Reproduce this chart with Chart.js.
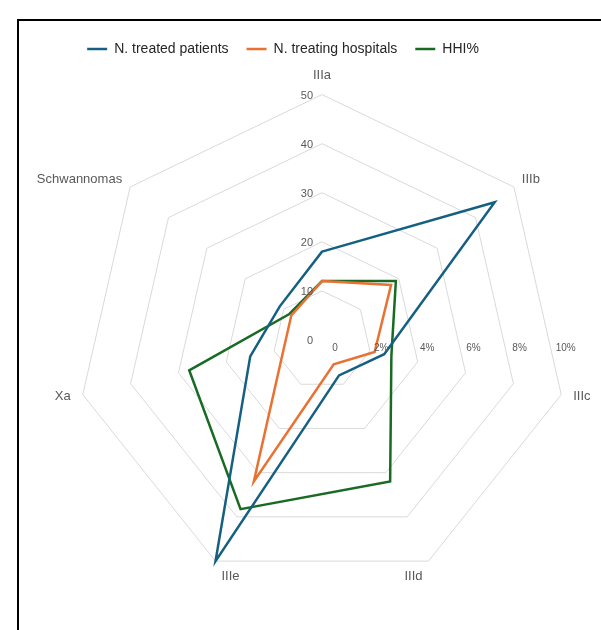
<!DOCTYPE html>
<html>
<head>
<meta charset="utf-8">
<script src="https://cdn.jsdelivr.net/npm/chart.js@4"></script>
<style>
  html, body { margin: 0; padding: 0; background: #fff; overflow: hidden; }
  .frame { position: absolute; left: 17px; top: 19px; width: 700px; height: 700px; border: 2.5px solid #000; }
  .box { position: absolute; left: 17px; top: 24px; width: 610px; height: 606px; }
</style>
</head>
<body>
<div class="frame"></div>
<div class="box"><canvas id="radarChart"></canvas></div>
<script>
// categorie e valori
const categories = ['IIIa', 'IIIb', 'IIIc', 'IIId', 'IIIe', 'Xa', 'Schwannomas'];
const treatedPatients = [18, 45, 13, 8, 50, 15, 11];
const treatingHospitals = [12, 18, 11, 5.5, 32, 8, 8];
const hhiPercent = [2.4, 3.85, 2.9, 6.4, 7.65, 5.55, 1.7];
const countTicks = [0, 10, 20, 30, 40, 50];
const percentTicks = [0, 2, 4, 6, 8, 10];

const fontFamily = "'Liberation Sans', Arial, sans-serif";

// etichette disegnate a mano, piazzate come in Excel
const axisLabels = {
  id: 'axisLabels',
  afterDatasetsDraw(chart) {
    const ctx = chart.ctx;
    const r = chart.scales.r;
    const r2 = chart.scales.r2;
    ctx.save();
    ctx.fillStyle = '#595959';
    ctx.textBaseline = 'middle';

    // nomi delle categorie
    ctx.font = '13px ' + fontFamily;
    categories.forEach((name, i) => {
      const p = r.getPointPosition(i, r.drawingArea);
      const a = r.getIndexAngle(i);
      const s = Math.sin(a), c = Math.cos(a);
      let dx = 0, dy = 0, align = 'center';
      if (Math.abs(s) < 0.01) {
        dy = -19;
      } else if (c < -0.5) {
        dx = -Math.sign(s) * 15;
        dy = 15;
      } else {
        align = s > 0 ? 'left' : 'right';
        dx = Math.sign(s) * (c > 0 ? 8 : 12);
        dy = c > 0 ? -8 : 2;
      }
      ctx.textAlign = align;
      ctx.fillText(name, p.x + dx, p.y + dy);
    });

    // asse primario (verticale)
    ctx.font = '11px ' + fontFamily;
    ctx.textAlign = 'right';
    countTicks.forEach(v => {
      const d = r.getDistanceFromCenterForValue(v);
      ctx.fillText(String(v), r.xCenter - 9, r.yCenter - d + 1);
    });

    // asse secondario HHI% (orizzontale)
    ctx.font = '10px ' + fontFamily;
    ctx.textAlign = 'center';
    percentTicks.forEach(v => {
      const d = r2.getDistanceFromCenterForValue(v);
      ctx.fillText(v === 0 ? '0' : v + '%', r2.xCenter + d * 0.94 + 13, r2.yCenter + 8);
    });
    ctx.restore();
  }
};

// la legenda nell'originale non e' centrata sul radar
const legendShift = {
  id: 'legendShift',
  afterLayout(chart) {
    chart.legend.left -= 39;
    chart.legend.right -= 39;
  }
};

const ctx = document.getElementById('radarChart').getContext('2d');
const radarChart = new Chart(ctx, {
  type: 'radar',
  data: {
    labels: categories,
    datasets: [
      {
        label: 'N. treated patients',
        data: treatedPatients,
        borderColor: '#156082',
        backgroundColor: '#156082',
        borderWidth: 2.5,
        pointRadius: 0,
        fill: false,
        rAxisID: 'r'
      },
      {
        label: 'N. treating hospitals',
        data: treatingHospitals,
        borderColor: '#E97132',
        backgroundColor: '#E97132',
        borderWidth: 2.5,
        pointRadius: 0,
        fill: false,
        rAxisID: 'r'
      },
      {
        label: 'HHI%',
        data: hhiPercent,
        borderColor: '#196B24',
        backgroundColor: '#196B24',
        borderWidth: 2.5,
        pointRadius: 0,
        fill: false,
        rAxisID: 'r2'
      }
    ]
  },
  options: {
    responsive: true,
    maintainAspectRatio: false,
    animation: false,
    layout: { padding: { top: 0, bottom: 31, left: 0, right: 0 } },
    plugins: {
      legend: {
        display: true,
        position: 'top',
        maxHeight: 33,
        labels: {
          usePointStyle: true,
          pointStyle: 'line',
          pointStyleWidth: 20,
          color: '#262626',
          padding: 18,
          font: { family: fontFamily, size: 14 }
        }
      },
      tooltip: { enabled: false }
    },
    scales: {
      r: {
        min: 0,
        max: 50,
        ticks: { stepSize: 10, display: false },
        grid: { color: '#d9d9d9', lineWidth: 1 },
        angleLines: { display: false },
        // le etichette vere le disegna il plugin; qui servono solo per lo spazio
        pointLabels: { color: 'rgba(0,0,0,0)', font: { family: fontFamily, size: 13 }, padding: 10 }
      },
      r2: {
        min: 0,
        max: 10,
        ticks: { stepSize: 2, display: false },
        grid: { display: false },
        angleLines: { display: false },
        pointLabels: { color: 'rgba(0,0,0,0)', font: { family: fontFamily, size: 13 }, padding: 10 }
      }
    }
  },
  plugins: [axisLabels, legendShift]
});
</script>
</body>
</html>
